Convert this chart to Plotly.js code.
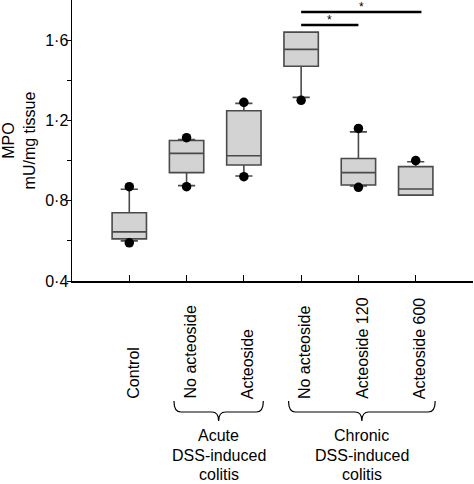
<!DOCTYPE html>
<html>
<head>
<meta charset="utf-8">
<script src="https://cdn.plot.ly/plotly-3.0.1.min.js"></script>
<style>html,body{margin:0;padding:0;background:#fff;}#chart{width:474px;height:484px;}</style>
</head>
<body>
<div id="chart"></div>
<script>
// ---- data ----
var categories = ["Control", "No acteoside", "Acteoside", "No acteoside", "Acteoside 120", "Acteoside 600"];
var q1 = [0.61, 0.94, 0.978, 1.47, 0.878, 0.828];
var medians = [0.645, 1.036, 1.024, 1.554, 0.94, 0.858];
var q3 = [0.74, 1.10, 1.248, 1.64, 1.01, 0.97];
var lowerWhisker = [0.60, 0.875, 0.923, 1.315, 0.873, 0.828];
var upperWhisker = [0.857, 1.105, 1.285, 1.64, 1.143, 0.994];
var upperDots = [0.87, 1.114, 1.29, null, 1.16, 1.0];
var lowerDots = [0.59, 0.87, 0.92, 1.30, 0.867, null];
var groupLines = [["Acute", "DSS-induced", "colitis"], ["Chronic", "DSS-induced", "colitis"]];
var groupFirst = [1, 3];
var groupLast = [2, 5];
var sigFrom = [3, 3];
var sigTo = [5.1, 4];
var sigY = [1.74, 1.675];
var sigLabel = ["*", "*"];
var yTickVals = [0.4, 0.6, 0.8, 1.0, 1.2, 1.4, 1.6];
var yTickText = ["0·4", "", "0·8", "", "1·2", "", "1·6"];

// ---- build ----
var FONT = "Liberation Sans, Arial, Helvetica, sans-serif";
var idx = categories.map(function (_, i) { return i; });

var boxTrace = {
  type: "box",
  x: idx,
  q1: q1, median: medians, q3: q3,
  lowerfence: lowerWhisker, upperfence: upperWhisker,
  width: 0.6,
  whiskerwidth: 0.5,
  fillcolor: "#d3d3d3",
  line: { color: "#4a4a4a", width: 1.6 },
  boxpoints: false,
  hoverinfo: "skip",
  showlegend: false
};

var dotX = [], dotY = [];
idx.forEach(function (i) {
  if (upperDots[i] !== null) { dotX.push(i); dotY.push(upperDots[i]); }
  if (lowerDots[i] !== null) { dotX.push(i); dotY.push(lowerDots[i]); }
});
var dotTrace = {
  type: "scatter", mode: "markers",
  x: dotX, y: dotY,
  marker: { color: "#000", size: 9.5 },
  hoverinfo: "skip", showlegend: false
};

var shapes = [];
var annotations = [];
var shift = 0.06;

// significance bars
sigFrom.forEach(function (a, k) {
  shapes.push({ type: "line", xref: "x", yref: "y", x0: a, x1: sigTo[k], y0: sigY[k], y1: sigY[k],
    line: { color: "#000", width: 2.5 } });
  annotations.push({ xref: "x", yref: "y", x: (a + sigTo[k]) / 2, y: sigY[k], yanchor: "bottom",
    text: sigLabel[k], showarrow: false, font: { family: FONT, size: 12, color: "#000" }, yshift: -4 });
});

// category labels (rotated, bottom aligned)
var plotH = 281;
function paperY(px) { return (plotH - px) / plotH; }
categories.forEach(function (c, i) {
  annotations.push({ xref: "x", yref: "paper", x: i + shift, y: paperY(401), xanchor: "center", yanchor: "bottom",
    text: c, textangle: -90, showarrow: false, font: { family: FONT, size: 16, color: "#000" } });
});

// braces + group labels
groupLines.forEach(function (lines, k) {
  var c = (groupFirst[k] + groupLast[k]) / 2 + shift;
  var hw = (groupLast[k] - groupFirst[k]) / 2 + 0.28;
  var x0 = c - hw, x1 = c + hw;
  var yT = paperY(401), yM = paperY(412), yP = paperY(421);
  var r = 0.12;
  var path = "M " + x0 + "," + yT +
    " Q " + x0 + "," + yM + " " + (x0 + r) + "," + yM +
    " L " + (c - r) + "," + yM +
    " Q " + c + "," + yM + " " + c + "," + yP +
    " Q " + c + "," + yM + " " + (c + r) + "," + yM +
    " L " + (x1 - r) + "," + yM +
    " Q " + x1 + "," + yM + " " + x1 + "," + yT;
  shapes.push({ type: "path", xref: "x", yref: "paper", path: path, line: { color: "#000", width: 1.2 } });
  lines.forEach(function (t, j) {
    annotations.push({ xref: "x", yref: "paper", x: c, y: paperY(436 + 19 * j), xanchor: "center", yanchor: "middle",
      text: t, showarrow: false, font: { family: FONT, size: 16, color: "#000" } });
  });
});

var layout = {
  width: 474, height: 484,
  margin: { l: 72, r: 1, t: 0, b: 203 },
  paper_bgcolor: "#fff", plot_bgcolor: "#fff",
  font: { family: FONT, size: 16, color: "#000" },
  showlegend: false,
  xaxis: {
    range: [-1, 6],
    tickvals: idx.concat([6]),
    ticktext: categories.map(function () { return ""; }).concat([""]),
    ticks: "inside", ticklen: 6, tickwidth: 1, tickcolor: "#000",
    showline: true, linecolor: "#000", linewidth: 1.5,
    showgrid: false, zeroline: false, fixedrange: true
  },
  yaxis: {
    range: [0.4, 1.8],
    tickvals: yTickVals, ticktext: yTickText,
    ticks: "outside", ticklen: 4, tickwidth: 1, tickcolor: "#000",
    ticklabelstandoff: -5,
    showline: true, linecolor: "#000", linewidth: 1.5,
    showgrid: false, zeroline: false,
    tickfont: { family: FONT, size: 16, color: "#000" },
    title: { text: "MPO<br>mU/mg tissue", font: { family: FONT, size: 16, color: "#000" }, standoff: 6 }
  },
  shapes: shapes,
  annotations: annotations
};

Plotly.newPlot("chart", [boxTrace, dotTrace], layout, { staticPlot: true, displayModeBar: false });
</script>
</body>
</html>
